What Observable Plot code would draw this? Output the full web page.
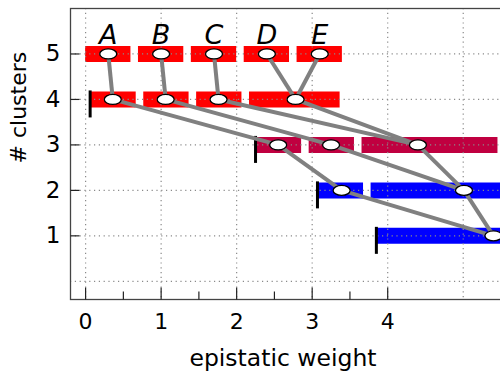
<!DOCTYPE html>
<html>
<head>
<meta charset="utf-8">
<script src="https://cdn.jsdelivr.net/npm/d3@7"></script>
<script src="https://cdn.jsdelivr.net/npm/@observablehq/plot@0.6"></script>
<style>
  html, body { margin: 0; padding: 0; background: #fff; overflow: hidden; }
  svg { overflow: hidden; display: block; }
</style>
</head>
<body>
<div id="chart"></div>
<script>
// ---- data ----
const rows = [5, 4, 3, 2, 1];
const leafLabels = ["A", "B", "C", "D", "E"];
const barStarts = [[0, 0.7, 1.4, 2.1, 2.8], [0.07, 0.77, 1.47, 2.17], [2.26, 2.96, 3.66], [3.08, 3.78], [3.86]];
const barEnds   = [[0.6, 1.3, 2.0, 2.7, 3.4], [0.67, 1.37, 2.07, 3.37], [2.86, 3.56, 5.46], [3.68, 6.18], [6.86]];
const clusterPoints = [[0.3, 1.0, 1.7, 2.4, 3.1], [0.36, 1.06, 1.76, 2.78], [2.55, 3.25, 4.40], [3.39, 5.01], [5.40]];
const rowMarkers = [null, 0.06, 2.25, 3.07, 3.85];
// [fromRow, fromCluster, toRow, toCluster]
const links = [
  [5,0,4,0],[5,1,4,1],[5,2,4,2],[5,3,4,3],[5,4,4,3],
  [4,0,3,0],[4,1,3,1],[4,2,3,2],[4,3,3,2],
  [3,0,2,0],[3,1,2,1],[3,2,2,1],
  [2,0,1,0],[2,1,1,0]
];
const rowColors = ["#ff0000", "#ff0000", "#c00040", "#0000ff", "#0000ff"];
const xTicks = [0, 1, 2, 3, 4];
const xMinorTicks = [0.5, 1.5, 2.5, 3.5];
const yTicks = [1, 2, 3, 4, 5];
const gridXValues = [0, 1, 2, 3, 4, 5];
const gridYValues = [0, 1, 2, 3, 4, 5];

// ---- tables built from the arrays ----
const bars = rows.flatMap((row, r) => barStarts[r].map((s, i) => ({row, x1: s, x2: barEnds[r][i]})));
const points = rows.flatMap((row, r) => clusterPoints[r].map((x, i) => ({row, x})));
const markers = rows.map((row, r) => ({row, x: rowMarkers[r]})).filter(d => d.x != null);
const ptOf = (row, i) => clusterPoints[rows.indexOf(row)][i];
const linkData = links.map(([r1, i1, r2, i2]) => ({x1: ptOf(r1, i1), y1: r1, x2: ptOf(r2, i2), y2: r2}));
const labels = leafLabels.map((t, i) => ({t, x: clusterPoints[0][i], row: rows[0]}));

// ---- custom symbols ----
const ellipse = {
  draw(ctx) {
    const rx = 8.5, ry = 5, k = 0.5523;
    ctx.moveTo(rx, 0);
    ctx.bezierCurveTo(rx, k * ry, k * rx, ry, 0, ry);
    ctx.bezierCurveTo(-k * rx, ry, -rx, k * ry, -rx, 0);
    ctx.bezierCurveTo(-rx, -k * ry, -k * rx, -ry, 0, -ry);
    ctx.bezierCurveTo(k * rx, -ry, rx, -k * ry, rx, 0);
    ctx.closePath();
  }
};
const vline = (a, b) => ({ draw(ctx) { ctx.moveTo(0, a); ctx.lineTo(0, b); } });
const hline = (a, b) => ({ draw(ctx) { ctx.moveTo(a, 0); ctx.lineTo(b, 0); } });

const chart = Plot.plot({
  width: 500,
  height: 373,
  marginLeft: 70,
  marginRight: -2,
  marginTop: 8,
  marginBottom: 74,
  style: {fontFamily: "DejaVu Sans", fontSize: "22px", background: "white", color: "black"},
  x: {domain: [-0.2, 5.52], axis: null},
  y: {domain: [-0.4, 6], axis: null},
  color: {type: "ordinal", domain: rows, range: rowColors},
  marks: [
    Plot.ruleY(bars, {y: "row", x1: "x1", x2: "x2", stroke: "row", strokeWidth: 16}),
    Plot.gridX(gridXValues, {stroke: "#8a8a8a", strokeOpacity: 1, strokeWidth: 1.2, strokeDasharray: "1.2,3.6"}),
    Plot.gridY(gridYValues, {stroke: "#8a8a8a", strokeOpacity: 1, strokeWidth: 1.2, strokeDasharray: "1.2,3.6"}),
    Plot.dot(markers, {x: "x", y: "row", symbol: vline(-9, 18), fill: "none", stroke: "black", strokeWidth: 3}),
    Plot.link(linkData, {x1: "x1", y1: "y1", x2: "x2", y2: "y2", stroke: "#808080", strokeWidth: 4}),
    Plot.dot(points, {x: "x", y: "row", symbol: ellipse, fill: "white", stroke: "black", strokeWidth: 1.3}),
    Plot.text(labels, {x: "x", y: "row", text: "t", dy: -10, lineAnchor: "bottom", fontStyle: "italic", fontSize: 27}),
    Plot.frame({stroke: "#444", strokeWidth: 1.3}),
    Plot.dot(xTicks, {x: d => d, frameAnchor: "bottom", symbol: vline(0, -12), fill: "none", stroke: "#222", strokeWidth: 1.2}),
    Plot.dot(xMinorTicks, {x: d => d, frameAnchor: "bottom", symbol: vline(0, -8), fill: "none", stroke: "#222", strokeWidth: 1.2}),
    Plot.dot(yTicks, {y: d => d, frameAnchor: "left", symbol: hline(0, 9), fill: "none", stroke: "#222", strokeWidth: 1.2}),
    Plot.axisX({ticks: xTicks, tickSize: 0, tickPadding: 14, tickFormat: d => String(d), label: null, fontSize: 22}),
    Plot.axisY({ticks: yTicks, tickSize: 0, tickPadding: 10, tickFormat: d => String(d), label: null, fontSize: 23}),
    Plot.text(["epistatic weight"], {text: d => d, frameAnchor: "bottom", dx: -3.5, dy: 66, lineAnchor: "bottom", fontSize: 23.5}),
    Plot.text(["# clusters"], {text: d => d, frameAnchor: "left", rotate: -90, dx: -45, dy: 9.5, lineAnchor: "bottom", fontSize: 22})
  ]
});
document.getElementById("chart").appendChild(chart);
</script>
</body>
</html>
